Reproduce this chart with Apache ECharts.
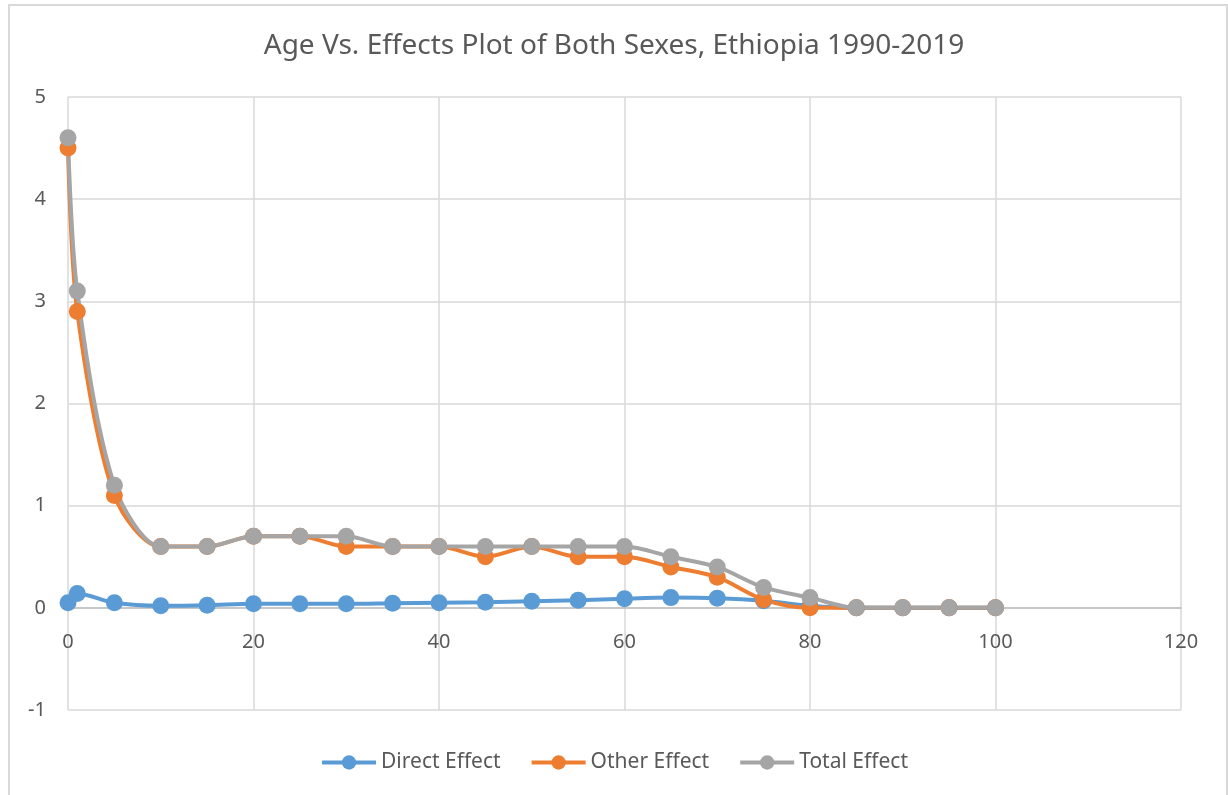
<!DOCTYPE html>
<html><head><meta charset="utf-8">
<script src="https://cdn.jsdelivr.net/npm/echarts@6/dist/echarts.min.js"></script>
<style>
html,body{margin:0;padding:0;background:#fff;overflow:hidden}
#wrap{position:relative;width:1228px;height:795px;overflow:hidden}
#frame{position:absolute;left:8px;top:4px;width:1216px;height:900px;border:2px solid #d9d9d9}
#c{position:absolute;left:0;top:0;width:1228px;height:795px}
</style>
</head><body><div id="wrap"><div id="frame"></div><div id="c"></div></div>
<script>
const ages = [0,1,5,10,15,20,25,30,35,40,45,50,55,60,65,70,75,80,85,90,95,100];
const directEffect = [0.05,0.14,0.05,0.02,0.025,0.04,0.04,0.04,0.045,0.05,0.055,0.065,0.075,0.09,0.1,0.095,0.07,0.02,0,0,0,0];
const otherEffect = [4.5,2.9,1.1,0.6,0.6,0.7,0.7,0.6,0.6,0.6,0.5,0.6,0.5,0.5,0.4,0.3,0.08,0,0,0,0,0];
const totalEffect = [4.6,3.1,1.2,0.6,0.6,0.7,0.7,0.7,0.6,0.6,0.6,0.6,0.6,0.6,0.5,0.4,0.2,0.1,0,0,0,0];
const seriesNames = ['Direct Effect','Other Effect','Total Effect'];
const colors = ['#5b9bd5','#ed7d31','#a5a5a5'];
const font = "'Noto Sans', 'Open Sans', sans-serif";
const chart = echarts.init(document.getElementById('c'));
const mk = (name, vals, color) => ({
  name, type:'line', smooth:0.3, symbol:'circle', symbolSize:17,
  lineStyle:{width:4,color}, itemStyle:{color},
  data: ages.map((a,i)=>[a, vals[i]])
});
const gridTop = 97, gridBottom = 85, H = 795;
const unitPx = (H - gridTop - gridBottom) / 6;
chart.setOption({
  animation:false,
  title:{text:'Age Vs. Effects Plot of Both Sexes, Ethiopia 1990-2019', left:'center', top:27,
    textStyle:{fontFamily:font,fontSize:28,fontWeight:'normal',color:'#595959'}},
  legend:{bottom:17, left:'center', itemWidth:54, itemHeight:18, itemGap:29,
    lineStyle:{width:4},
    textStyle:{fontFamily:font,fontSize:21,color:'#595959'},
    data:seriesNames},
  grid:{left:68,right:47,top:gridTop,bottom:gridBottom},
  xAxis:{type:'value',min:0,max:120,interval:20,offset:-unitPx,
    axisLine:{onZero:false,lineStyle:{color:'#bfbfbf',width:1.5}},
    axisTick:{show:false},
    axisLabel:{fontFamily:font,fontSize:20,color:'#595959',margin:24},
    splitLine:{lineStyle:{color:'#d9d9d9',width:1.5}}},
  yAxis:{type:'value',min:-1,max:5,interval:1,
    axisLine:{show:false},axisTick:{show:false},
    axisLabel:{fontFamily:font,fontSize:20,color:'#595959',margin:22},
    splitLine:{lineStyle:{color:'#d9d9d9',width:1.5}}},
  series:[mk(seriesNames[0],directEffect,colors[0]),mk(seriesNames[1],otherEffect,colors[1]),mk(seriesNames[2],totalEffect,colors[2])]
});
</script></body></html>
